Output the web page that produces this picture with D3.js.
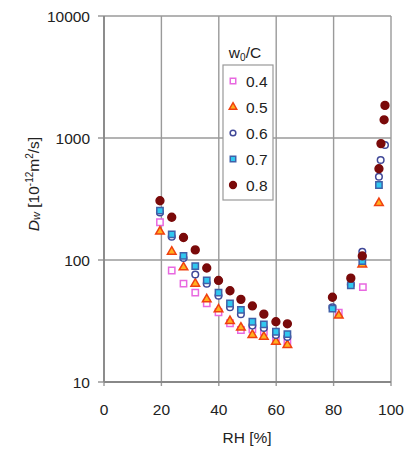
<!DOCTYPE html>
<html>
<head>
<meta charset="utf-8">
<script src="https://cdn.jsdelivr.net/npm/d3@7"></script>
<style>
  body { margin: 0; background: #fff; }
  text { font-family: "Liberation Sans", Arial, sans-serif; fill: #222; }
</style>
</head>
<body>
<div id="chart"></div>
<script>
// data
var seriesNames = ["0.4", "0.5", "0.6", "0.7", "0.8"];
var rhLow = [19.5, 23.6, 27.7, 31.8, 35.8, 39.9, 43.9, 47.7, 51.7, 55.7, 59.9, 63.9];

var rh04 = rhLow.concat([81.8, 90.2]);
var d04 = [204, 82, 64, 54, 44.2, 37.3, 30.3, 26.7, 27, 25.8, 23, 21.3, 37, 60];

var rh05 = rhLow.concat([81.8, 90, 95.8]);
var d05 = [171, 117, 87, 64, 47.6, 39.4, 31.6, 27.9, 24.3, 23.5, 21.4, 20.1, 35, 92, 293];

var rh06 = rhLow.concat([79.6, 86, 90, 95.8, 96.4, 97.9]);
var d06 = [245, 155, 104, 76, 64, 51, 41, 36, 29, 27.7, 24.3, 23.4, 41, 63, 117, 482, 660, 875];

var rh07 = rhLow.concat([79.6, 86, 90, 95.8]);
var d07 = [254, 162, 108, 89, 68, 54, 44, 39, 31.2, 29.7, 25.8, 24.7, 40, 62, 98, 412];

var rh08 = rhLow.concat([79.6, 86, 90, 95.8, 96.5, 97.6, 97.9]);
var d08 = [306, 224, 153, 121, 86, 68, 56, 47.6, 42, 36, 31.2, 30, 49.5, 71, 108, 560, 900, 1410, 1850];

var xTicks = [0, 20, 40, 60, 80, 100];
var yTicks = [10, 100, 1000, 10000];

var width = 409, height = 450;

var svg = d3.select("#chart").append("svg")
    .attr("width", width)
    .attr("height", height);

var x = d3.scaleLinear().domain([0, 100]).range([104, 391]);
var y = d3.scaleLog().domain([10, 10000]).range([382, 16]);

// grid
svg.append("g").selectAll("line").data(yTicks).enter().append("line")
  .attr("x1", 98).attr("x2", x(100))
  .attr("y1", function(d){ return y(d) }).attr("y2", function(d){ return y(d) })
  .attr("stroke", "#9a9a9a").attr("stroke-width", 1.4);
svg.append("g").selectAll("line").data(xTicks).enter().append("line")
  .attr("x1", function(d){ return x(d) }).attr("x2", function(d){ return x(d) })
  .attr("y1", y(10000)).attr("y2", 386)
  .attr("stroke", "#9a9a9a").attr("stroke-width", 1.4);

// axis lines
svg.append("line").attr("x1", x(0)).attr("x2", x(0)).attr("y1", y(10000)).attr("y2", y(10))
  .attr("stroke", "#888").attr("stroke-width", 1.8);
svg.append("line").attr("x1", x(0)).attr("x2", x(100)).attr("y1", y(10)).attr("y2", y(10))
  .attr("stroke", "#888").attr("stroke-width", 1.8);

// tick labels
svg.append("g").selectAll("text").data(yTicks).enter().append("text")
  .attr("x", 90).attr("y", function(d){ return y(d) + 5.5 })
  .attr("text-anchor", "end").attr("font-size", "15.5px")
  .text(function(d){ return d });
svg.append("g").selectAll("text").data(xTicks).enter().append("text")
  .attr("x", function(d){ return x(d) }).attr("y", 415)
  .attr("text-anchor", "middle").attr("font-size", "15.5px")
  .text(function(d){ return d });

svg.append("text").attr("x", 247).attr("y", 443)
  .attr("text-anchor", "middle").attr("font-size", "15.5px")
  .text("RH [%]");

var ytitle = svg.append("text")
  .attr("transform", "translate(39,184) rotate(-90)")
  .attr("text-anchor", "middle").attr("font-size", "15.5px");
ytitle.append("tspan").attr("font-style", "italic").text("D");
ytitle.append("tspan").attr("font-style", "italic").attr("font-size", "11px").attr("dy", 1).text("w");
ytitle.append("tspan").attr("dy", -1).text(" [10");
ytitle.append("tspan").attr("font-size", "10px").attr("dy", -6).text("-12");
ytitle.append("tspan").attr("dy", 6).text("m");
ytitle.append("tspan").attr("font-size", "10px").attr("dy", -6).text("2");
ytitle.append("tspan").attr("dy", 6).text("/s]");

// marker styles
var styles = {
  "0.4": {type: d3.symbolSquare, size: 40, fill: "#fff", stroke: "#e868e0"},
  "0.5": {type: d3.symbolTriangle, size: 32, fill: "#ffb020", stroke: "#f04010"},
  "0.6": {type: d3.symbolCircle, size: 34, fill: "#fff", stroke: "#404898"},
  "0.7": {type: d3.symbolSquare, size: 40, fill: "#30c8f0", stroke: "#4060a8"},
  "0.8": {type: d3.symbolCircle, size: 48, fill: "#7a0a0a", stroke: "#7a0a0a"}
};

function drawSeries(name, xs, ys){
  var st = styles[name];
  var pts = xs.map(function(v, i){ return {rh: v, d: ys[i]} });
  svg.append("g").selectAll("path").data(pts).enter().append("path")
    .attr("d", d3.symbol().type(st.type).size(st.size))
    .attr("transform", function(p){ return "translate(" + x(p.rh) + "," + y(p.d) + ")" })
    .attr("fill", st.fill).attr("stroke", st.stroke).attr("stroke-width", 1.5);
}

drawSeries("0.4", rh04, d04);
drawSeries("0.5", rh05, d05);
drawSeries("0.6", rh06, d06);
drawSeries("0.7", rh07, d07);
drawSeries("0.8", rh08, d08);

// legend
var lg = svg.append("g");
var lt = lg.append("text").attr("x", 245).attr("y", 58)
  .attr("text-anchor", "middle").attr("font-size", "15.5px");
lt.append("tspan").text("w");
lt.append("tspan").attr("font-size", "10px").attr("dy", 3).text("0");
lt.append("tspan").attr("dy", -3).text("/C");
lg.append("rect").attr("x", 223).attr("y", 65).attr("width", 50).attr("height", 135)
  .attr("fill", "#fff").attr("stroke", "#999").attr("stroke-width", 1.2);
seriesNames.forEach(function(name, i){
  var st = styles[name];
  var ly = 81 + i * 26;
  lg.append("path")
    .attr("d", d3.symbol().type(st.type).size(st.size * 0.75))
    .attr("transform", "translate(233," + ly + ")")
    .attr("fill", st.fill).attr("stroke", st.stroke).attr("stroke-width", 1.5);
  lg.append("text").attr("x", 246).attr("y", ly + 5.5)
    .attr("font-size", "15.5px").text(name);
});
</script>
</body>
</html>
